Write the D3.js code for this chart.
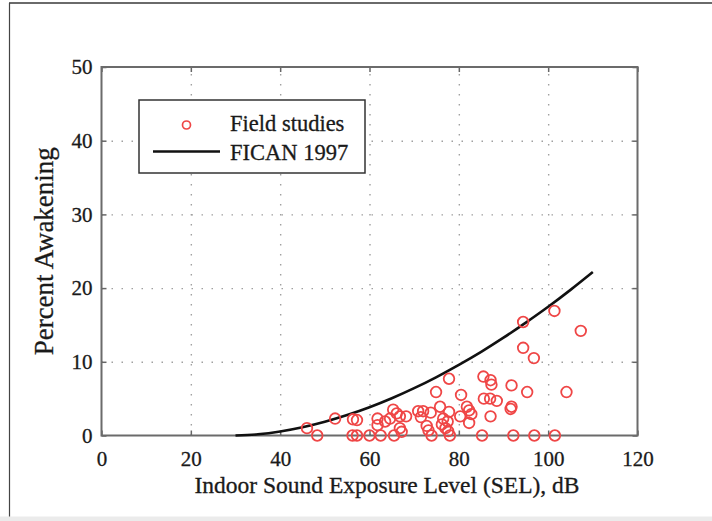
<!DOCTYPE html>
<html><head><meta charset="utf-8">
<script src="https://cdn.jsdelivr.net/npm/d3@7"></script>
<style>
html,body{margin:0;padding:0;background:#fff;}
svg{display:block;}
text{font-family:"Liberation Serif","Times New Roman",serif;fill:#1a1a1a;stroke:#1a1a1a;stroke-width:0.3px;}
</style></head><body>
<svg id="chart" width="712" height="521"></svg>
<script>
// Field study observations: indoor SEL (dB) and percent awakening
const fieldSel = [46.0,48.3,52.3,56.3,57.2,56.2,57.2,60.0,61.8,61.8,62.5,63.5,64.6,65.3,66.1,66.8,68.2,66.8,67.2,65.5,
  70.9,72.0,71.5,72.8,73.2,73.9,73.7,74.9,75.8,76.2,77.0,77.6,76.5,77.5,77.8,77.8,78.0,80.3,80.5,81.8,
  82.3,82.8,82.3,85.2,85.5,87.1,87.3,85.6,87.0,88.5,87.1,91.8,91.8,91.6,92.2,94.4,94.4,95.3,96.8,96.9,
  101.4,101.5,104.1,107.3];
const fieldPct = [1.0,0,2.3,2.2,2.1,0,0,0,2.3,1.4,0,1.9,2.3,3.5,3.0,2.6,2.6,1.0,0.5,0,
  3.3,3.3,2.5,1.3,0.7,0,3.1,5.9,3.9,1.5,1.0,0.6,2.3,1.9,7.7,3.2,0,2.6,5.5,3.9,
  3.4,2.9,1.7,0,8.0,7.5,6.9,5.0,5.0,4.7,2.6,6.8,3.9,3.6,0,15.4,11.9,5.9,10.5,0,
  16.9,0,5.9,14.2];

// FICAN 1997 dose-response curve
const ficanSel = [30,35,40,45,50,55,60,65,70,75,80,85,90,95,100,105,110];
const ficanPct = [0,0.16,0.54,1.11,1.86,2.77,3.83,5.05,6.42,7.93,9.58,11.35,13.27,15.31,17.46,19.76,22.18];

const xTicks = [0,20,40,60,80,100,120];
const yTicks = [0,10,20,30,40,50];
const legendLabels = ["Field studies","FICAN 1997"];
const xTitle = "Indoor Sound Exposure Level (SEL), dB";
const yTitle = "Percent Awakening";

const W = 712, H = 521;
const plot = {left:101.5, right:637.5, top:67, bottom:435.5};
const red = "#ef4646";

const svg = d3.select("#chart");

// page frame
svg.append("rect").attr("width",W).attr("height",H).attr("fill","#fff");
svg.append("rect").attr("x",0).attr("y",516.5).attr("width",W).attr("height",4.5).attr("fill","#ebebeb");
svg.append("line").attr("x1",9).attr("x2",W).attr("y1",3).attr("y2",3)
  .attr("stroke","#6a6a6a").attr("stroke-width",2);
svg.append("line").attr("x1",9.5).attr("x2",9.5).attr("y1",3).attr("y2",516.5)
  .attr("stroke","#444").attr("stroke-width",1.2);

const x = d3.scaleLinear().domain([0,120]).range([plot.left,plot.right]);
const y = d3.scaleLinear().domain([0,50]).range([plot.bottom,plot.top]);
const ph = plot.bottom - plot.top, pw = plot.right - plot.left;

// dotted grid
const gx = svg.append("g").attr("transform",`translate(0,${plot.bottom})`)
  .call(d3.axisBottom(x).tickValues(xTicks.slice(1,-1)).tickSize(-ph).tickFormat(""));
const gy = svg.append("g").attr("transform",`translate(${plot.left},0)`)
  .call(d3.axisLeft(y).tickValues(yTicks.slice(1,-1)).tickSize(-pw).tickFormat(""));
[gx,gy].forEach(g => {
  g.select(".domain").remove();
  g.selectAll(".tick line").attr("stroke","#a0a0a0").attr("stroke-width",1.4).attr("stroke-dasharray","1.5,8.5");
});

// axes with inward ticks on all four sides
const tickFont = g => g.selectAll("text").attr("font-size",21).attr("fill","#1a1a1a");
const styleAxis = g => { g.select(".domain").remove(); g.selectAll(".tick line").attr("stroke","#666").attr("stroke-width",1.5); };
svg.append("g").attr("transform",`translate(0,${plot.bottom})`)
  .call(d3.axisBottom(x).tickValues(xTicks).tickSizeInner(-5).tickSizeOuter(0).tickPadding(16))
  .call(styleAxis).call(tickFont);
svg.append("g").attr("transform",`translate(0,${plot.top})`)
  .call(d3.axisTop(x).tickValues(xTicks).tickSizeInner(-5).tickSizeOuter(0).tickFormat(""))
  .call(styleAxis);
svg.append("g").attr("transform",`translate(${plot.left},0)`)
  .call(d3.axisLeft(y).tickValues(yTicks).tickSizeInner(-5).tickSizeOuter(0).tickPadding(9))
  .call(styleAxis).call(tickFont);
svg.append("g").attr("transform",`translate(${plot.right},0)`)
  .call(d3.axisRight(y).tickValues(yTicks).tickSizeInner(-5).tickSizeOuter(0).tickFormat(""))
  .call(styleAxis);

// plot box
svg.append("rect").attr("x",plot.left).attr("y",plot.top).attr("width",pw).attr("height",ph)
  .attr("fill","none").attr("stroke","#6b6b6b").attr("stroke-width",2);

// FICAN curve
const line = d3.line().x((d,i)=>x(ficanSel[i])).y(d=>y(d)).curve(d3.curveMonotoneX);
svg.append("path").datum(ficanPct).attr("d",line).attr("fill","none")
  .attr("stroke","#111").attr("stroke-width",2.6);

// field study markers
svg.append("g").selectAll("circle").data(fieldPct).join("circle")
  .attr("cx",(d,i)=>x(fieldSel[i])).attr("cy",d=>y(d)).attr("r",5.3)
  .attr("fill","none").attr("stroke",red).attr("stroke-width",1.8);

// axis titles
svg.append("text").attr("x",387).attr("y",493).attr("text-anchor","middle")
  .attr("font-size",23.5).text(xTitle);
svg.append("text").attr("transform",`translate(53,${(plot.top+plot.bottom)/2}) rotate(-90)`)
  .attr("text-anchor","middle").attr("font-size",27).text(yTitle);

// legend
const lg = svg.append("g");
lg.append("rect").attr("x",139).attr("y",100).attr("width",226).attr("height",73)
  .attr("fill","#fff").attr("stroke","#333").attr("stroke-width",1.5);
lg.append("circle").attr("cx",186.5).attr("cy",125).attr("r",4)
  .attr("fill","none").attr("stroke",red).attr("stroke-width",1.7);
lg.append("line").attr("x1",153).attr("x2",220).attr("y1",151.5).attr("y2",151.5)
  .attr("stroke","#111").attr("stroke-width",2.6);
lg.selectAll("text.lab").data(legendLabels).join("text").attr("class","lab")
  .attr("x",230).attr("y",(d,i)=>i===0?131:160).attr("font-size",22.5).text(d=>d);
</script>
</body></html>
